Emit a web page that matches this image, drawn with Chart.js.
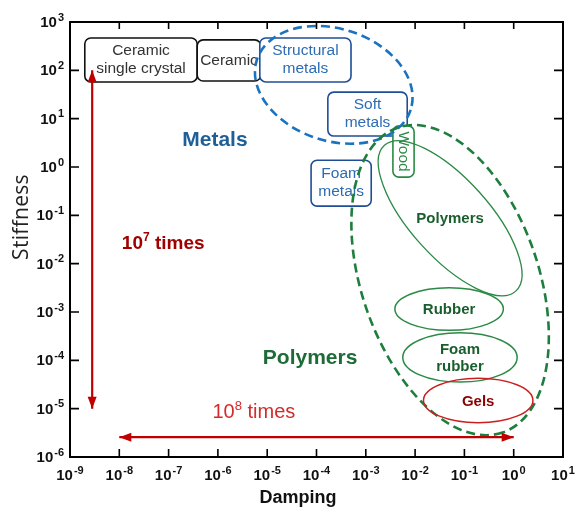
<!DOCTYPE html>
<html>
<head>
<meta charset="utf-8">
<title>Stiffness vs damping</title>
<script src="https://cdn.jsdelivr.net/npm/chart.js@4.4.1/dist/chart.umd.min.js"></script>
<style>
  body { margin: 0; background: #fff; }
  canvas { display: block; }
</style>
</head>
<body>
<canvas id="materialChart" width="575" height="514"></canvas>
<script>
// Axis decades, tick labels are 10^exp
const xTickExps = [-9, -8, -7, -6, -5, -4, -3, -2, -1, 0, 1];
const yTickExps = [-6, -5, -4, -3, -2, -1, 0, 1, 2, 3];

// Material boxes: log10 damping (left/right), log10 stiffness (top/bottom)
const boxNames = [['Ceramic', 'single crystal'], ['Ceramic'], ['Structural', 'metals'], ['Soft', 'metals'], ['Foam', 'metals'], ['Wood']];
const boxLeft = [-8.70, -6.42, -5.15, -3.77, -4.11, -2.45];
const boxRight = [-6.42, -5.13, -3.30, -2.16, -2.89, -2.02];
const boxTop = [2.67, 2.63, 2.67, 1.55, 0.14, 0.85];
const boxBottom = [1.76, 1.78, 1.76, 0.64, -0.81, -0.21];

// Material regions (ellipses): centre in log10, half axes in decades, tilt in deg
const regionNames = [[], [], ['Polymers'], ['Rubber'], ['Foam', 'rubber'], ['Gels']];
const regionX = [-3.65, -1.29, -1.29, -1.31, -1.09, -0.72];
const regionY = [1.70, -2.34, -1.06, -2.94, -3.94, -4.83];
const regionA = [1.64, 3.27, 1.99, 1.10, 1.16, 1.11];
const regionB = [1.16, 1.83, 0.81, 0.44, 0.51, 0.46];
const regionTilt = [18, 71, 48, 0, 0, 0];

// Range arrows: stiffness 10^-5..10^2 (10^7 times), damping 10^-8..10^0 (10^8 times)
const stiffRange = [1e-5, 1e2];
const stiffRangeAt = Math.pow(10, -8.55);
const dampRange = [1e-8, 1e0];
const dampRangeAt = Math.pow(10, -5.59);

// Group labels: text, log10 damping, log10 stiffness
const groupText = ['Metals', 'Polymers'];
const groupX = [-6.06, -4.13];
const groupY = [0.55, -3.96];

// styles
const FONT = "'Liberation Sans', Arial, sans-serif";
const RED = '#c00000';
const boxStyles = [
    { stroke: '#111', text: '#333' },
    { stroke: '#111', text: '#333' },
    { stroke: '#1f4e96', text: '#2d6cb3' },
    { stroke: '#1f4e96', text: '#2d6cb3' },
    { stroke: '#1f4e96', text: '#2d6cb3' },
    { stroke: '#2a8a45', text: '#2a8a45' }
];
const regionStyles = [
    { stroke: '#1a73c0', width: 2.6, dash: [9, 5] },
    { stroke: '#1e7e3e', width: 2.6, dash: [9, 5] },
    { stroke: '#2a8a45', width: 1.3, text: '#1b5e2e' },
    { stroke: '#2a8a45', width: 1.5, text: '#1b5e2e' },
    { stroke: '#2a8a45', width: 1.5, text: '#1b5e2e' },
    { stroke: '#cc2020', width: 1.5, text: '#8b0000' }
];
const groupColors = ['#1f5f99', '#1e6b37'];

function drawPow(ctx, exp, x, y, align, size, supSize) {
    ctx.font = `bold ${size}px ${FONT}`;
    const wBase = ctx.measureText('10').width;
    ctx.font = `bold ${supSize}px ${FONT}`;
    const wExp = ctx.measureText(String(exp)).width;
    let x0 = x;
    const w = wBase + wExp + 1;
    if (align === 'center') x0 = x - w / 2;
    if (align === 'right') x0 = x - w;
    ctx.textAlign = 'left';
    ctx.textBaseline = 'alphabetic';
    ctx.font = `bold ${size}px ${FONT}`;
    ctx.fillText('10', x0, y);
    ctx.font = `bold ${supSize}px ${FONT}`;
    ctx.fillText(String(exp), x0 + wBase + 1, y - size * 0.42);
}

// text like "10^7 times" with a raised exponent
function drawTimes(ctx, exp, cx, cy, weight, size, color) {
    const sup = Math.round(size * 0.65);
    ctx.font = `${weight} ${size}px ${FONT}`;
    const w1 = ctx.measureText('10').width;
    const w3 = ctx.measureText(' times').width;
    ctx.font = `${weight} ${sup}px ${FONT}`;
    const w2 = ctx.measureText(String(exp)).width;
    let x = cx - (w1 + w2 + w3) / 2;
    const base = cy + size * 0.36;
    ctx.fillStyle = color;
    ctx.textAlign = 'left';
    ctx.textBaseline = 'alphabetic';
    ctx.font = `${weight} ${size}px ${FONT}`;
    ctx.fillText('10', x, base);
    ctx.font = `${weight} ${sup}px ${FONT}`;
    ctx.fillText(String(exp), x + w1, base - size * 0.4);
    ctx.font = `${weight} ${size}px ${FONT}`;
    ctx.fillText(' times', x + w1 + w2, base);
}

const sketchPlugin = {
    id: 'sketch',
    beforeDatasetsDraw(chart) {
        const ctx = chart.ctx;
        const xs = chart.scales.x, ys = chart.scales.y;
        const px = lx => xs.getPixelForValue(Math.pow(10, lx));
        const py = ly => ys.getPixelForValue(Math.pow(10, ly));
        const perDecX = px(1) - px(0);
        const perDecY = py(0) - py(1);
        ctx.save();

        // boxes
        boxNames.forEach((lines, i) => {
            const x1 = px(boxLeft[i]), x2 = px(boxRight[i]);
            const y1 = py(boxTop[i]), y2 = py(boxBottom[i]);
            ctx.beginPath();
            ctx.roundRect(x1, y1, x2 - x1, y2 - y1, 6);
            ctx.fillStyle = '#fff';
            ctx.fill();
            ctx.lineWidth = 1.6;
            ctx.setLineDash([]);
            ctx.strokeStyle = boxStyles[i].stroke;
            ctx.stroke();
            ctx.fillStyle = boxStyles[i].text;
            ctx.font = `15.5px ${FONT}`;
            ctx.textAlign = 'center';
            ctx.textBaseline = 'middle';
            const cx = (x1 + x2) / 2, cy = (y1 + y2) / 2;
            if (lines[0] === 'Wood') {
                ctx.save();
                ctx.translate(cx, cy);
                ctx.rotate(Math.PI / 2);
                ctx.fillText(lines[0], 0, 0);
                ctx.restore();
            } else {
                lines.forEach((t, k) => {
                    ctx.fillText(t, cx, cy + (k - (lines.length - 1) / 2) * 18);
                });
            }
        });

        // regions
        regionNames.forEach((lines, i) => {
            const st = regionStyles[i];
            ctx.beginPath();
            ctx.ellipse(px(regionX[i]), py(regionY[i]), regionA[i] * perDecX, regionB[i] * perDecY,
                regionTilt[i] * Math.PI / 180, 0, Math.PI * 2);
            ctx.lineWidth = st.width;
            ctx.strokeStyle = st.stroke;
            ctx.setLineDash(st.dash || []);
            ctx.stroke();
            ctx.setLineDash([]);
            if (lines.length) {
                ctx.fillStyle = st.text;
                ctx.font = `bold 15px ${FONT}`;
                ctx.textAlign = 'center';
                ctx.textBaseline = 'middle';
                lines.forEach((t, k) => {
                    ctx.fillText(t, px(regionX[i]), py(regionY[i]) + 1 + (k - (lines.length - 1) / 2) * 17);
                });
            }
        });

        // group labels
        groupText.forEach((t, i) => {
            ctx.fillStyle = groupColors[i];
            ctx.font = `bold 21px ${FONT}`;
            ctx.textAlign = 'center';
            ctx.textBaseline = 'middle';
            ctx.fillText(t, px(groupX[i]), py(groupY[i]));
        });

        drawTimes(ctx, 7, px(-7.11), py(-1.55), 'bold', 19, '#a00000');
        drawTimes(ctx, 8, px(-5.27), py(-5.05), 'normal', 20, '#d42a2a');
        ctx.restore();
    },
    afterDatasetsDraw(chart) {
        const ctx = chart.ctx;
        const xs = chart.scales.x, ys = chart.scales.y;
        const a = chart.chartArea;
        ctx.save();

        // arrow heads at both ends of each range line
        chart.data.datasets.forEach((ds, di) => {
            const pts = chart.getDatasetMeta(di).data;
            [[0, 1], [1, 0]].forEach(([e, o]) => {
                const p = pts[e], q = pts[o];
                const ang = Math.atan2(p.y - q.y, p.x - q.x);
                ctx.save();
                ctx.translate(p.x, p.y);
                ctx.rotate(ang);
                ctx.beginPath();
                ctx.moveTo(0, 0);
                ctx.lineTo(-12, -4.5);
                ctx.lineTo(-12, 4.5);
                ctx.closePath();
                ctx.fillStyle = RED;
                ctx.fill();
                ctx.restore();
            });
        });

        // frame
        ctx.strokeStyle = '#000';
        ctx.lineWidth = 2;
        ctx.strokeRect(a.left, a.top, a.right - a.left, a.bottom - a.top);

        // inward ticks and labels
        ctx.fillStyle = '#111';
        ctx.lineWidth = 1.6;
        xTickExps.forEach(e => {
            const x = xs.getPixelForValue(Math.pow(10, e));
            ctx.beginPath();
            ctx.moveTo(x, a.bottom); ctx.lineTo(x, a.bottom - 8);
            ctx.moveTo(x, a.top); ctx.lineTo(x, a.top + 7);
            ctx.stroke();
            drawPow(ctx, e, x, a.bottom + 23, 'center', 15, 11);
        });
        yTickExps.forEach(e => {
            const y = ys.getPixelForValue(Math.pow(10, e));
            ctx.beginPath();
            ctx.moveTo(a.left, y); ctx.lineTo(a.left + 9, y);
            ctx.moveTo(a.right, y); ctx.lineTo(a.right - 9, y);
            ctx.stroke();
            drawPow(ctx, e, a.left - 6, y + 5, 'right', 15, 11);
        });

        // axis titles
        ctx.fillStyle = '#111';
        ctx.font = `bold 18px ${FONT}`;
        ctx.textAlign = 'center';
        ctx.textBaseline = 'middle';
        ctx.fillText('Damping', 298, 498);
        ctx.save();
        ctx.fillStyle = '#222';
        ctx.font = `21px 'Open Sans', ${FONT}`;
        ctx.letterSpacing = '0.3px';
        ctx.translate(22, 217);
        ctx.rotate(-Math.PI / 2);
        ctx.fillText('Stiffness', 0, 0);
        ctx.restore();
        ctx.restore();
    }
};

const ctx = document.getElementById('materialChart').getContext('2d');
new Chart(ctx, {
    type: 'scatter',
    data: {
        datasets: [{
            data: stiffRange.map(v => ({ x: stiffRangeAt, y: v })),
            showLine: true,
            borderColor: RED,
            borderWidth: 2.2,
            pointRadius: 0
        }, {
            data: dampRange.map(v => ({ x: v, y: dampRangeAt })),
            showLine: true,
            borderColor: RED,
            borderWidth: 2.2,
            pointRadius: 0
        }]
    },
    options: {
        responsive: false,
        animation: false,
        layout: { padding: { left: 70, top: 22, right: 12, bottom: 57 } },
        plugins: { legend: { display: false }, tooltip: { enabled: false } },
        scales: {
            x: { type: 'logarithmic', min: 1e-9, max: 10, display: false },
            y: { type: 'logarithmic', min: 1e-6, max: 1e3, display: false }
        }
    },
    plugins: [sketchPlugin]
});
</script>
</body>
</html>
